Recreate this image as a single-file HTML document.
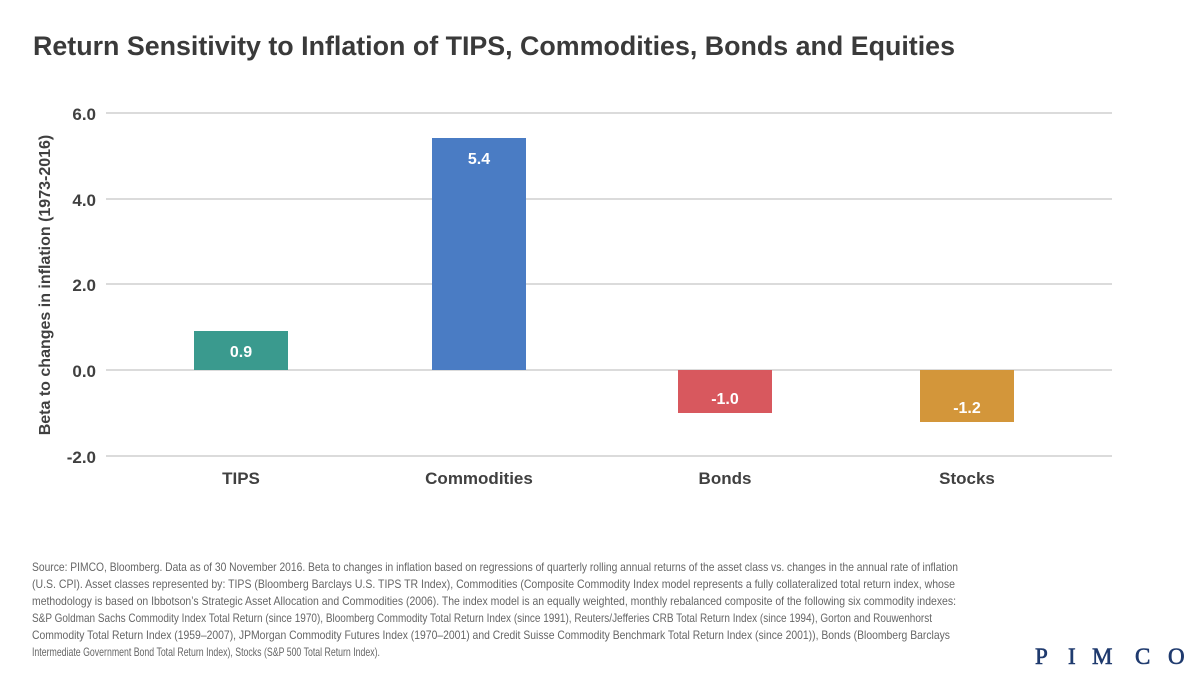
<!DOCTYPE html>
<html><head><meta charset="utf-8"><style>
body{margin:0;background:#fff;width:1200px;height:675px;overflow:hidden;font-family:"Liberation Sans",sans-serif}
</style></head><body>
<svg width="1200" height="675" xmlns="http://www.w3.org/2000/svg" font-family="Liberation Sans, sans-serif">
<text x="33" y="55" font-size="27" font-weight="bold" fill="#3a3a3a" textLength="922" lengthAdjust="spacingAndGlyphs">Return Sensitivity to Inflation of TIPS, Commodities, Bonds and Equities</text>
<g stroke="#cfcfcf" stroke-width="1.5">
<line x1="106" x2="1112" y1="113" y2="113"/>
<line x1="106" x2="1112" y1="199" y2="199"/>
<line x1="106" x2="1112" y1="284" y2="284"/>
<line x1="106" x2="1112" y1="370" y2="370"/>
<line x1="106" x2="1112" y1="456" y2="456"/>
</g>
<g font-size="17" fill="#404040" text-anchor="end" font-weight="bold">
<text x="96" y="120">6.0</text><text x="96" y="206">4.0</text><text x="96" y="291">2.0</text><text x="96" y="377">0.0</text><text x="96" y="463">-2.0</text>
</g>
<text transform="translate(50,285) rotate(-90)" font-size="16" font-weight="bold" fill="#404040" text-anchor="middle">Beta to changes in inflation (1973-2016)</text>
<rect x="194" y="331" width="94" height="39" fill="#3a9a8e"/>
<rect x="432" y="138" width="94" height="232" fill="#4a7cc4"/>
<rect x="678" y="370" width="94" height="43" fill="#d8585e"/>
<rect x="920" y="370" width="94" height="52" fill="#d3963a"/>
<g font-size="16" font-weight="bold" fill="#fff" text-anchor="middle">
<text x="241" y="357">0.9</text><text x="479" y="164">5.4</text><text x="725" y="404">-1.0</text><text x="967" y="413">-1.2</text>
</g>
<g font-size="17" font-weight="bold" fill="#404040" text-anchor="middle">
<text x="241" y="484">TIPS</text><text x="479" y="484">Commodities</text><text x="725" y="484">Bonds</text><text x="967" y="484">Stocks</text>
</g>
<g font-size="12" fill="#666" font-family="Liberation Sans Narrow, Liberation Sans, sans-serif">
<text x="32" y="571" textLength="926" lengthAdjust="spacingAndGlyphs">Source: PIMCO, Bloomberg. Data as of 30 November 2016. Beta to changes in inflation based on regressions of quarterly rolling annual returns of the asset class vs. changes in the annual rate of inflation</text>
<text x="32" y="588" textLength="923" lengthAdjust="spacingAndGlyphs">(U.S. CPI). Asset classes represented by: TIPS (Bloomberg Barclays U.S. TIPS TR Index), Commodities (Composite Commodity Index model represents a fully collateralized total return index, whose</text>
<text x="32" y="605" textLength="924" lengthAdjust="spacingAndGlyphs">methodology is based on Ibbotson’s Strategic Asset Allocation and Commodities (2006). The index model is an equally weighted, monthly rebalanced composite of the following six commodity indexes:</text>
<text x="32" y="622" textLength="900" lengthAdjust="spacingAndGlyphs">S&amp;P Goldman Sachs Commodity Index Total Return (since 1970), Bloomberg Commodity Total Return Index (since 1991), Reuters/Jefferies CRB Total Return Index (since 1994), Gorton and Rouwenhorst</text>
<text x="32" y="639" textLength="918" lengthAdjust="spacingAndGlyphs">Commodity Total Return Index (1959–2007), JPMorgan Commodity Futures Index (1970–2001) and Credit Suisse Commodity Benchmark Total Return Index (since 2001)), Bonds (Bloomberg Barclays</text>
<text x="32" y="656" textLength="348" lengthAdjust="spacingAndGlyphs">Intermediate Government Bond Total Return Index), Stocks (S&amp;P 500 Total Return Index).</text>
</g>
<g font-family="Liberation Serif, serif" font-size="23" fill="#1f3a6e" stroke="#1f3a6e" stroke-width="0.6">
<text x="1035" y="664">P</text><text x="1068" y="664">I</text><text x="1092" y="664">M</text><text x="1135" y="664">C</text><text x="1168" y="664">O</text>
</g>
</svg>
</body></html>
